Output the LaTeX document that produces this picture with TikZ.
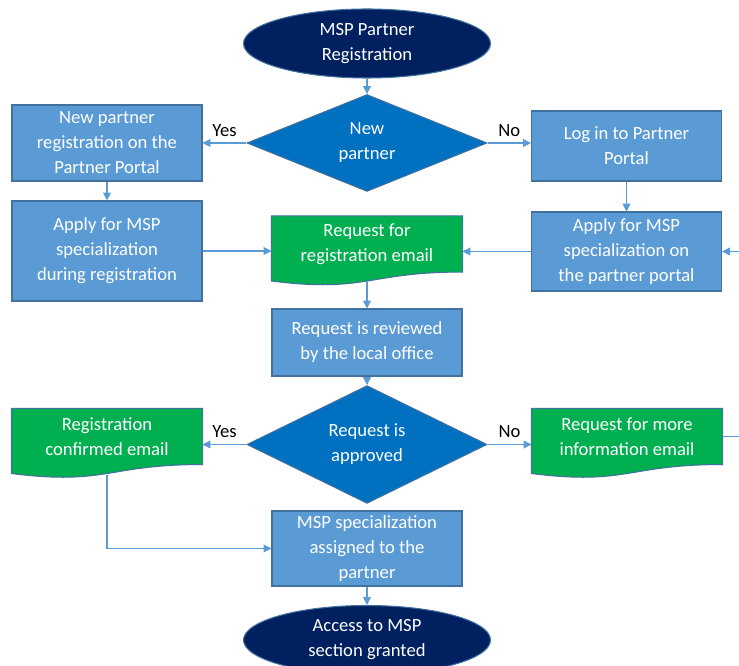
\documentclass[tikz,border=0pt]{standalone}
\usepackage{fontspec}
\setmainfont{Carlito}
\usetikzlibrary{shapes.geometric,arrows.meta,backgrounds}

\definecolor{boxblue}{HTML}{5B9BD5}
\definecolor{edgeblue}{HTML}{41719C}
\definecolor{navy}{HTML}{002060}
\definecolor{decblue}{HTML}{0070C0}
\definecolor{mailgreen}{HTML}{00B050}

\tikzset{
    base/.style = {
        font=\fontsize{10.6}{14.2}\selectfont,
        text=white,
        align=center,
        line width=0.6pt
    },
    process/.style = {
        base,
        rectangle,
        draw=edgeblue,
        fill=boxblue,
        minimum width=3.8cm,
        minimum height=#1,
        inner sep=1pt
    },
    terminal/.style = {
        base,
        ellipse,
        draw=edgeblue,
        fill=navy,
        minimum width=4.94cm,
        minimum height=1.38cm,
        inner sep=0pt
    },
    decision/.style = {
        base,
        diamond,
        draw=edgeblue,
        fill=decblue,
        minimum width=4.8cm,
        minimum height=1.92cm,
        inner sep=0pt
    },
    mail/.style = {
        base,
        rectangle,
        minimum width=3.8cm,
        minimum height=1.1cm,
        inner sep=1pt
    },
    flow/.style = {
        draw=boxblue,
        line width=0.6pt,
        -{Triangle[length=4.5pt,width=4.5pt]}
    },
    answer/.style = {
        font=\fontsize{10.6}{14.2}\selectfont,
        text=black
    }
}

% green document shape with a wavy bottom, drawn behind a mail node
\newcommand\mailshape[1]{%
    \begin{scope}[on background layer]
        \draw[draw=edgeblue, fill=mailgreen, line width=0.6pt]
            (#1.north west) -- (#1.north east) -- (#1.south east)
            .. controls (#1.south) and ([yshift=-0.42cm]#1.south) .. ([yshift=-0.18cm]#1.south west) -- cycle;
    \end{scope}}

\begin{document}
\begin{tikzpicture}
    \useasboundingbox (0,0) rectangle (14.78,-13.32);
    % columns
    \newcommand\XL{2.14}
    \newcommand\XM{7.34}
    \newcommand\XR{12.53}

    %Top
    \node[terminal] (start) at (\XM,-0.87) {MSP Partner\\Registration};
    \node[decision] (newq) at (\XM,-2.86) {New\\partner};

    %Left column
    \node[process=1.52cm] (newreg) at (\XL,-2.86) {New partner\\registration on the\\Partner Portal};
    \node[process=2.0cm] (applyreg) at (\XL,-5.02) {Apply for MSP\\specialization\\during registration};

    %Right column
    \node[process=1.4cm] (login) at (\XR,-2.92) {Log in to Partner\\Portal};
    \node[process=1.58cm] (applyportal) at (\XR,-5.03) {Apply for MSP\\specialization on\\the partner portal};

    %Middle
    \node[mail] (reqmail) at (\XM,-4.88) {Request for\\registration email};
    \mailshape{reqmail}
    \node[process=1.34cm] (reviewed) at (\XM,-6.85) {Request is reviewed\\by the local office};
    \node[decision] (approvedq) at (\XM,-8.89) {Request is\\approved};

    %Mails after decision
    \node[mail] (confirmed) at (\XL,-8.73) {Registration\\confirmed email};
    \mailshape{confirmed}
    \node[mail] (moreinfo) at (12.54,-8.73) {Request for more\\information email};
    \mailshape{moreinfo}

    %Bottom
    \node[process=1.5cm] (assigned) at (\XM,-10.97) {MSP specialization\\assigned to the\\partner};
    \node[terminal] (granted) at (\XM,-12.8) {Access to MSP\\section granted};

    %Right border
    \coordinate (edge) at (14.78,0);

    %Arrows
    \draw[flow] (start) -- (newq);
    \draw[flow] (newq) -- (newreg) node[midway, above, answer] {Yes};
    \draw[flow] (newq.east) -- (newq.east -| login.west) node[midway, above, answer] {No};
    \draw[flow] (newreg) -- (applyreg);
    \draw[flow] (login) -- (applyportal);
    \draw[flow] (applyreg) -- (applyreg -| reqmail.west);
    \draw[flow] (applyportal) -- (applyportal -| reqmail.east);
    \draw[flow] (applyportal.east -| edge) -- (applyportal.east);
    \draw[flow] ([yshift=-0.18cm]reqmail.south) -- (reviewed);
    \draw[flow] (reviewed) -- (approvedq);
    \draw[flow] (approvedq) -- (approvedq -| confirmed.east) node[midway, above, answer] {Yes};
    \draw[flow] (approvedq) -- (approvedq -| moreinfo.west) node[midway, above, answer] {No};
    \draw[flow, -] (moreinfo.east) -- (moreinfo.east -| edge);
    \draw[flow] ([yshift=-0.2cm]confirmed.south) |- (assigned.west);
    \draw[flow] (assigned) -- (granted);
\end{tikzpicture}
\end{document}
